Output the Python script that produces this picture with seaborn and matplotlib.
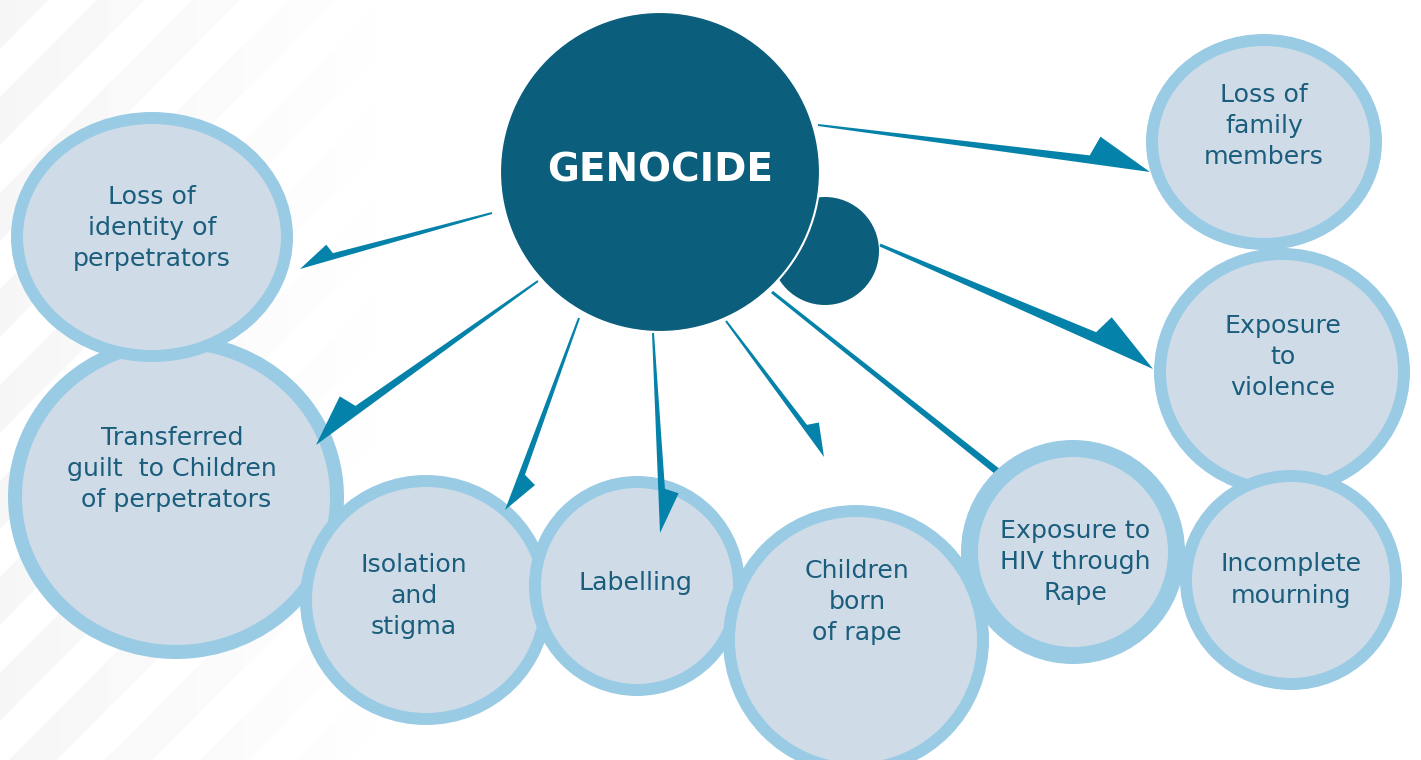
import numpy as np
import matplotlib
matplotlib.use("Agg")
import matplotlib.pyplot as plt
import seaborn as sns
from matplotlib.patches import Ellipse, Circle, Polygon

# ---------------- data ----------------
center_label = "GENOCIDE"
center_xy = (660, 172)
center_r = 160
satellite_xy = (825, 251)
satellite_r = 54

node_labels = [
    "Transferred\nguilt  to Children\n of perpetrators",
    "Loss of\nidentity of\nperpetrators",
    "Isolation\nand\nstigma",
    "Labelling",
    "Children\nborn\nof rape",
    "Exposure to\nHIV through\nRape",
    "Loss of\nfamily\nmembers",
    "Exposure\nto\nviolence",
    "Incomplete\nmourning",
]
node_cx = [176, 152, 426, 637, 856, 1073, 1264, 1282, 1291]
node_cy = [497, 237, 600, 586, 640, 552, 142, 372, 580]
node_rx = [168, 141, 126, 108, 133, 112, 118, 128, 111]
node_ry = [162, 125, 125, 110, 135, 112, 108, 124, 110]
node_border = [14, 12, 12, 12, 12, 17, 12, 12, 12]
node_layer = [1, 2, 3, 4, 5, 6, 1, 2, 3]
text_x = [172, 152, 414, 635, 857, 1075, 1264, 1283, 1291]
text_y = [469, 228, 596, 583, 602, 562, 126, 357, 580]

# arrows: start, tip, start width, shaft width at head, head length,
# barb position back from tip, barb offset, barb side
arr_x0 = [492, 538, 579, 653, 726, 772, 880, 818]
arr_y0 = [213, 281, 318, 333, 321, 292, 245, 125]
arr_x1 = [300, 316, 505, 660, 824, 1003, 1153, 1150]
arr_y1 = [269, 445, 510, 533, 457, 476, 369, 172]
arr_w0 = [2, 2, 2, 2, 2, 3, 3, 2]
arr_w1 = [6, 8, 6, 6.5, 5, 7, 10, 8]
arr_hl = [36, 55, 40, 44, 36, 0, 67, 62]
arr_bl = [32, 48, 34, 39, 31, 0, 59, 54]
arr_bw = [16, 25, 19, 20, 16, 0, 30, 28]
arr_side = [1, 1, -1, -1, -1, 0, -1, -1]

# ---------------- style ----------------
sns.set_theme(style="white")
plt.rcParams["font.family"] = ["DejaVu Sans"]

DARK = "#0b5e7c"
ARROW = "#0582a9"
FILL = "#cfdce8"
EDGE = "#9acbe5"
TXT = "#1b5d7c"

W, H = 1421, 760
fig = plt.figure(figsize=(W / 100, H / 100), dpi=100)
ax = fig.add_axes([0, 0, 1, 1])
ax.set_xlim(0, W)
ax.set_ylim(H, 0)
ax.axis("off")
sns.despine(ax=ax, left=True, bottom=True)

# faint background stripes on the left
yy, xx = np.mgrid[0:H, 0:W]
stripe = (((xx + yy) // 48) % 2 == 0).astype(float)
fade = np.clip(1 - xx / 380.0, 0, 1)
rgba = np.zeros((H, W, 4))
rgba[..., :3] = 0.955
rgba[..., 3] = stripe * fade * 0.7
ax.imshow(rgba, extent=(0, W, H, 0), zorder=0, interpolation="nearest")


def draw_arrow(x0, y0, x1, y1, w0, w1, hl, bl, bw, side, z):
    start = np.array([x0, y0], float)
    end = np.array([x1, y1], float)
    d = end - start
    u = d / np.hypot(*d)
    n = np.array([-u[1], u[0]])
    if side == 0:
        pts = [start - n * w0 / 2, start + n * w0 / 2,
               end + n * w1 / 2, end - n * w1 / 2]
    else:
        s = side
        pts = [start - s * n * w0 / 2, start + s * n * w0 / 2,
               end - u * hl + s * n * w1,
               end - u * bl + s * n * bw,
               end]
    ax.add_patch(Polygon(pts, closed=True, facecolor=ARROW,
                         edgecolor="none", zorder=z))


# arrow without head sits under the circles
for i in range(len(arr_x0)):
    z = 2 if arr_side[i] == 0 else 30
    draw_arrow(arr_x0[i], arr_y0[i], arr_x1[i], arr_y1[i], arr_w0[i],
               arr_w1[i], arr_hl[i], arr_bl[i], arr_bw[i], arr_side[i], z)

# outcome circles
for i, lab in enumerate(node_labels):
    b = node_border[i]
    e = Ellipse((node_cx[i], node_cy[i]), 2 * node_rx[i] - b,
                2 * node_ry[i] - b, facecolor=FILL, edgecolor=EDGE,
                linewidth=b * 0.72, zorder=5 + node_layer[i])
    ax.add_patch(e)
    ax.text(text_x[i], text_y[i], lab, ha="center", va="center",
            multialignment="center", fontsize=18.2, color=TXT,
            linespacing=1.38, zorder=20 + node_layer[i])

# central circles
ax.add_patch(Circle(satellite_xy, satellite_r, facecolor=DARK,
                    edgecolor="none", zorder=24))
ax.add_patch(Circle(center_xy, center_r, facecolor=DARK,
                    edgecolor="white", linewidth=1.5, zorder=25))
ax.text(center_xy[0], center_xy[1] - 2, center_label, ha="center",
        va="center", fontsize=28, fontweight="bold", color="white",
        zorder=26)

fig.savefig("out.png", dpi=100, facecolor="white")
